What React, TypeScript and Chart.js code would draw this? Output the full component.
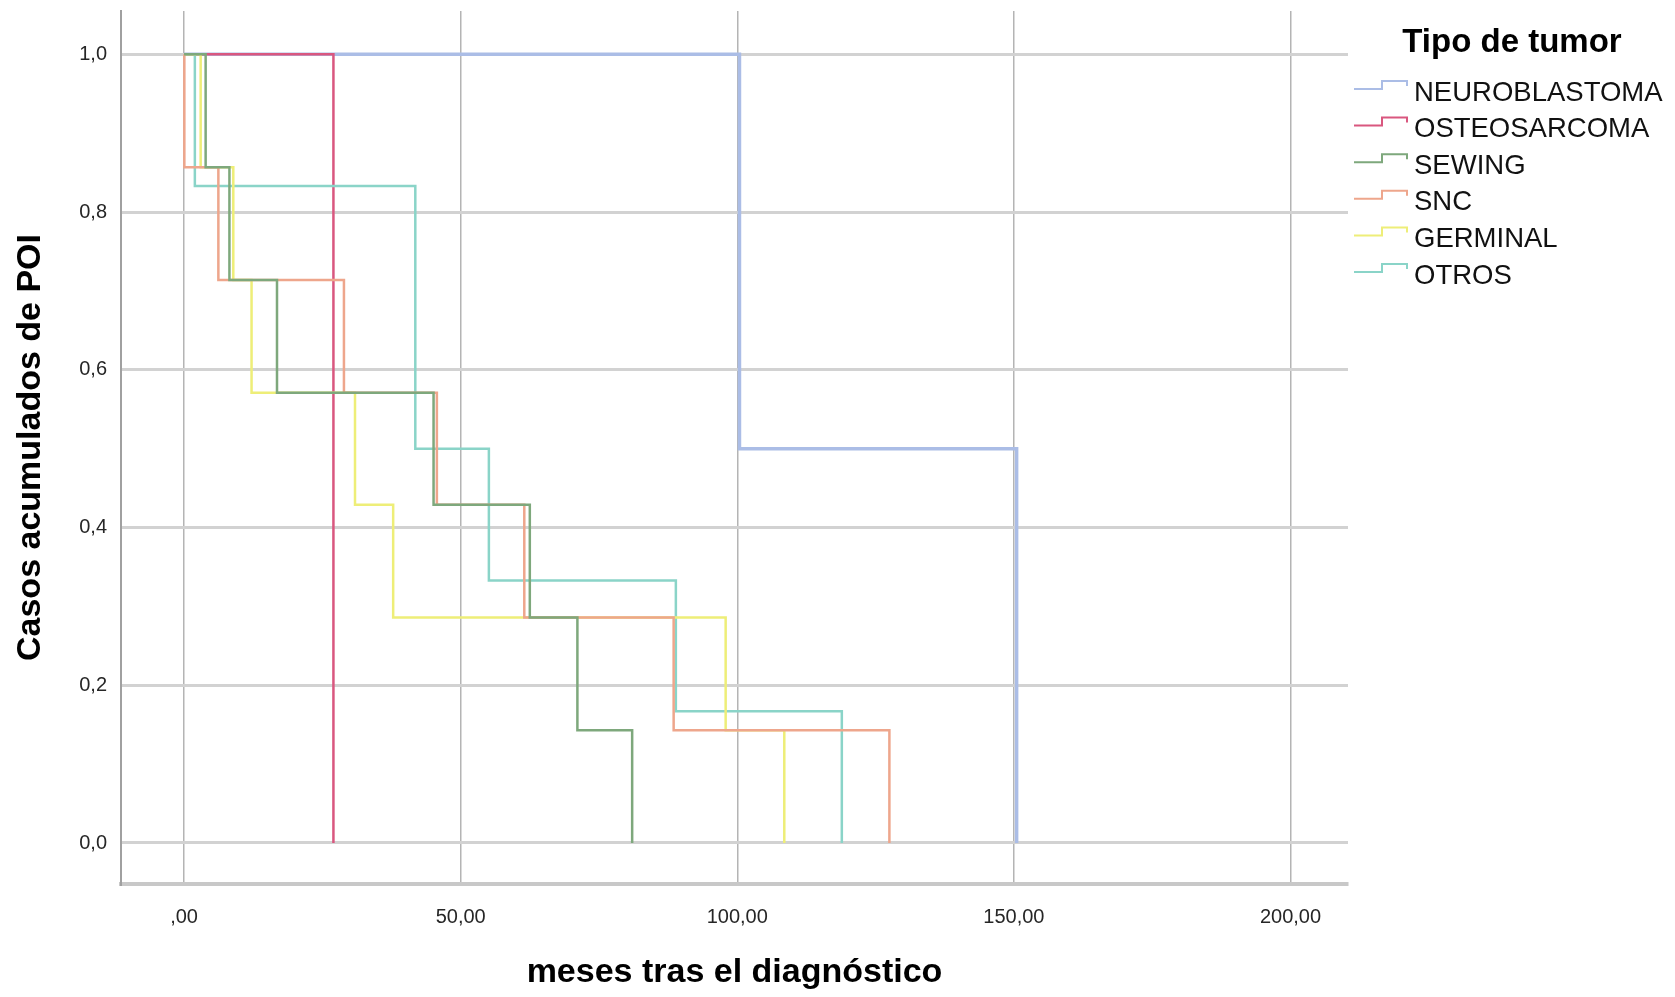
import React, { useEffect, useRef } from "react";
import { Chart, registerables } from "chart.js";

Chart.register(...registerables);

// ---- Data (Kaplan-Meier style step curves: event times and cumulative values) ----
const seriesNames = ["NEUROBLASTOMA", "OSTEOSARCOMA", "SEWING", "SNC", "GERMINAL", "OTROS"];

const neuroTimes = [0, 100.4, 150.5];
const neuroValues = [1, 0.5, 0];

const osteoTimes = [0, 27.0];
const osteoValues = [1, 0];

const sewingTimes = [0, 3.9, 8.2, 16.8, 45.1, 62.5, 71.1, 81.0];
const sewingValues = [1, 0.857, 0.714, 0.571, 0.429, 0.286, 0.143, 0];

const sncTimes = [0, 0.05, 6.2, 28.9, 45.7, 61.5, 88.5, 127.5];
const sncValues = [1, 0.857, 0.714, 0.571, 0.429, 0.286, 0.143, 0];

const germinalTimes = [0, 3.0, 8.9, 12.2, 30.9, 37.8, 97.9, 108.5];
const germinalValues = [1, 0.857, 0.714, 0.571, 0.429, 0.286, 0.143, 0];

const otrosTimes = [0, 1.95, 41.8, 55.1, 88.9, 118.9];
const otrosValues = [1, 0.833, 0.5, 0.333, 0.167, 0];

const xTickValues = [0, 50, 100, 150, 200];
const xTickLabels = [",00", "50,00", "100,00", "150,00", "200,00"];
const yTickValues = [0, 0.2, 0.4, 0.6, 0.8, 1.0];
const yTickLabels = ["0,0", "0,2", "0,4", "0,6", "0,8", "1,0"];

const seriesColors = ["#abbde6", "#d9577f", "#7ea87c", "#eea68c", "#eeee78", "#8ad4c8"];
const seriesWidths = [3.5, 2.5, 2.5, 2.5, 2.5, 2.5];
const seriesOrder = [6, 5, 1, 2, 3, 4];

const legendTitle = "Tipo de tumor";
const xTitle = "meses tras el diagnóstico";
const yTitle = "Casos acumulados de POI";

const FONT = "'Liberation Sans', Arial, sans-serif";

function toPoints(times: number[], values: number[]) {
  return times.map((t, i) => ({ x: t, y: values[i] }));
}

const legendPlugin = {
  id: "stepLegend",
  afterDraw(chart: any) {
    const ctx = chart.ctx as CanvasRenderingContext2D;
    ctx.save();
    ctx.fillStyle = "#000";
    ctx.font = `bold 33px ${FONT}`;
    ctx.textAlign = "center";
    ctx.textBaseline = "middle";
    ctx.fillText(legendTitle, 1512, 43);

    const tx = 1414;
    seriesNames.forEach((name, i) => {
      const cy = 92 + i * 36.6;
      ctx.strokeStyle = seriesColors[i];
      ctx.lineWidth = 2;
      ctx.beginPath();
      ctx.moveTo(tx - 60, cy - 3);
      ctx.lineTo(tx - 32, cy - 3);
      ctx.lineTo(tx - 32, cy - 11);
      ctx.lineTo(tx - 7, cy - 11);
      ctx.lineTo(tx - 7, cy - 6);
      ctx.stroke();
      ctx.fillStyle = "#111";
      ctx.font = `27.5px ${FONT}`;
      ctx.textAlign = "left";
      ctx.textBaseline = "middle";
      ctx.fillText(name, tx, cy + 1);
    });
    ctx.restore();
  },
};

export default function App() {
  const canvasRef = useRef<HTMLCanvasElement | null>(null);

  useEffect(() => {
    document.body.style.margin = "0";
    const canvas = canvasRef.current;
    if (!canvas) return;

    const allTimes = [neuroTimes, osteoTimes, sewingTimes, sncTimes, germinalTimes, otrosTimes];
    const allValues = [neuroValues, osteoValues, sewingValues, sncValues, germinalValues, otrosValues];

    const datasets = seriesNames.map((name, i) => ({
      label: name,
      data: toPoints(allTimes[i], allValues[i]),
      borderColor: seriesColors[i],
      backgroundColor: seriesColors[i],
      borderWidth: seriesWidths[i],
      pointRadius: 0,
      stepped: "before" as const,
      fill: false,
      order: seriesOrder[i],
      borderCapStyle: "butt" as const,
      borderJoinStyle: "miter" as const,
    }));

    const chart = new Chart(canvas, {
      type: "line",
      data: { datasets },
      options: {
        animation: false,
        responsive: false,
        maintainAspectRatio: false,
        layout: { padding: { left: 0, right: 327, top: 11, bottom: 0 } },
        plugins: {
          legend: { display: false },
          tooltip: { enabled: false },
        },
        scales: {
          x: {
            type: "linear",
            min: -11.4,
            max: 210.4,
            afterBuildTicks: (s: any) => {
              s.ticks = xTickValues.map((v) => ({ value: v }));
            },
            afterFit: (s: any) => {
              s.height = 113;
              s.paddingLeft = 0;
              s.paddingRight = 0;
            },
            grid: { color: "#b4b4b4", lineWidth: 1.5, drawTicks: false },
            border: { color: "#c8c8c8", width: 4 },
            ticks: {
              padding: 21,
              color: "#262626",
              font: { family: FONT, size: 20 },
              maxRotation: 0,
              autoSkip: false,
              callback: (_v: any, idx: number) => xTickLabels[idx],
            },
            title: {
              display: true,
              text: xTitle,
              color: "#000",
              font: { family: FONT, size: 34, weight: "bold" },
              padding: { top: 0, bottom: 4 },
            },
          },
          y: {
            type: "linear",
            min: -0.052,
            max: 1.055,
            afterBuildTicks: (s: any) => {
              s.ticks = yTickValues.map((v) => ({ value: v }));
            },
            afterFit: (s: any) => {
              s.width = 121;
              s.paddingTop = 0;
              s.paddingBottom = 0;
            },
            grid: { color: "#d2d2d2", lineWidth: 3, drawTicks: false },
            border: { color: "#a0a0a0", width: 2 },
            ticks: {
              padding: 14,
              color: "#262626",
              font: { family: FONT, size: 20 },
              autoSkip: false,
              callback: (_v: any, idx: number) => yTickLabels[idx],
            },
            title: {
              display: true,
              text: yTitle,
              color: "#000",
              font: { family: FONT, size: 34, weight: "bold" },
              padding: { top: 10, bottom: 0 },
            },
          },
        },
      },
      plugins: [legendPlugin],
    });

    return () => {
      chart.destroy();
    };
  }, []);

  return (
    <div style={{ position: "absolute", left: 0, top: 0, width: 1675, height: 997, background: "#fff" }}>
      <canvas ref={canvasRef} width={1675} height={997} style={{ width: 1675, height: 997, display: "block" }} />
    </div>
  );
}
